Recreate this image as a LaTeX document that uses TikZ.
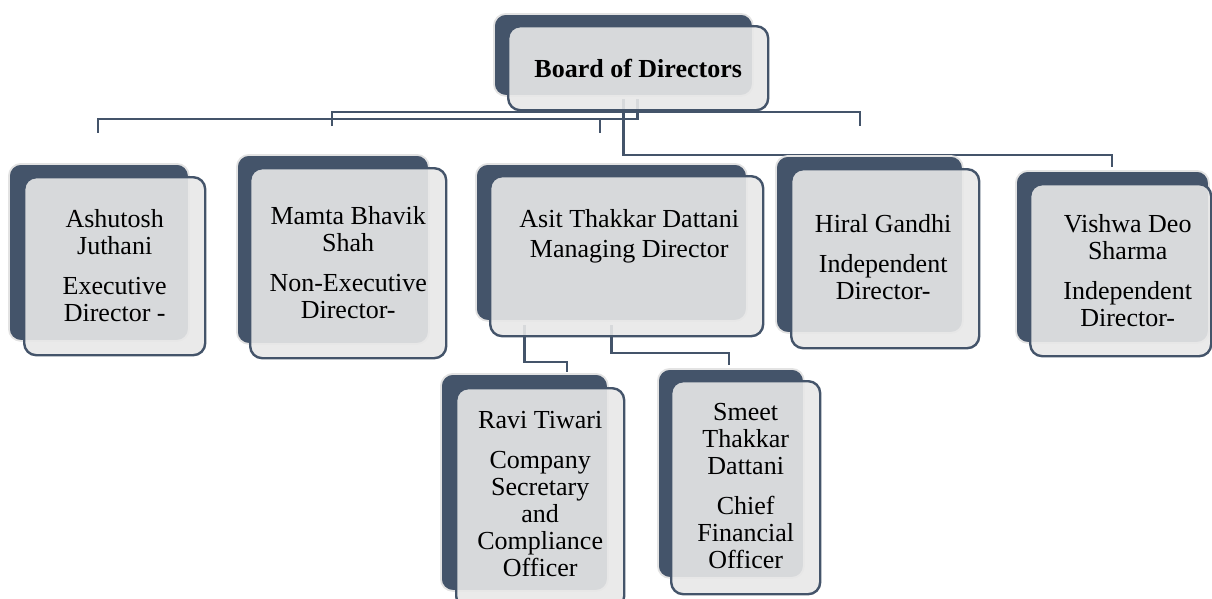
\documentclass[tikz,border=0pt]{standalone}
\usepackage{fontspec}
\setmainfont{Liberation Serif}
\usetikzlibrary{positioning,backgrounds}

\definecolor{slate}{HTML}{44546A}
\definecolor{paper}{HTML}{E8E8E8}

\tikzset{
  backbox/.style={draw=gray!22, line width=1.8pt, fill=slate, rounded corners=12pt,
    inner sep=0pt, anchor=north west},
  frontbox/.style={draw=slate, line width=2.4pt, fill=paper, fill opacity=0.9, text opacity=1,
    rounded corners=12pt, inner sep=0pt, anchor=north west},
  names/.style={align=center, inner sep=0pt, font=\fontsize{26}{27}\selectfont},
  conn/.style={draw=slate, line width=2.8pt}
}

\begin{document}
\begin{tikzpicture}[x=1pt,y=-1pt]
\useasboundingbox (0,0) rectangle (1212,598);

% back plates
\node[backbox, minimum width=259pt, minimum height=82pt] (board-bg) at (493,13) {};
\node[backbox, minimum width=180pt, minimum height=177pt] (ashutosh-bg) at (8,163) {};
\node[backbox, minimum width=192pt, minimum height=189pt] (mamta-bg) at (236,154) {};
\node[backbox, minimum width=271pt, minimum height=157pt] (asit-bg) at (475,163) {};
\node[backbox, minimum width=187pt, minimum height=177pt] (hiral-bg) at (775,155) {};
\node[backbox, minimum width=193pt, minimum height=172pt] (vishwa-bg) at (1015,170) {};
\node[backbox, minimum width=167pt, minimum height=217pt] (ravi-bg) at (440,373) {};
\node[backbox, minimum width=146pt, minimum height=209pt] (smeet-bg) at (657,368) {};

% front cards
\node[frontbox, minimum width=260pt, minimum height=84pt, font=\fontsize{26}{27}\selectfont\bfseries]
  (board) at (507,25) {Board of Directors};
\node[frontbox, minimum width=181pt, minimum height=178pt] (ashutosh) at (23,176) {};
\node[frontbox, minimum width=196pt, minimum height=190pt] (mamta) at (249,167) {};
\node[frontbox, minimum width=273pt, minimum height=160pt] (asit) at (489,175) {};
\node[frontbox, minimum width=188pt, minimum height=179pt] (hiral) at (790,168) {};
\node[frontbox, minimum width=181pt, minimum height=172pt] (vishwa) at (1029,183) {};
\node[frontbox, minimum width=168pt, minimum height=220pt] (ravi) at (455,387) {};
\node[frontbox, minimum width=149pt, minimum height=213pt] (smeet) at (670,380) {};

% texts
\node[names, below=33pt of ashutosh.north] (ashutosh-t) {Ashutosh\\Juthani\\[13pt]Executive\\Director -};
\node[names, below=39pt of mamta.north] (mamta-t) {Mamta Bhavik\\Shah\\[13pt]Non-Executive\\Director-};
\node[names, below=34pt of asit.north, xshift=2.5pt] (asit-t) {Asit Thakkar Dattani\\[3pt]Managing Director};
\node[names, below=46pt of hiral.north, xshift=-2pt] (hiral-t) {Hiral Gandhi\\[13pt]Independent\\Director-};
\node[names, below=31pt of vishwa.north, xshift=7pt] (vishwa-t) {Vishwa Deo\\Sharma\\[13pt]Independent\\Director-};
\node[names, below=24pt of ravi.north] (ravi-t) {Ravi Tiwari\\[13pt]Company\\Secretary\\and\\Compliance\\Officer};
\node[names, below=23pt of smeet.north] (smeet-t) {Smeet\\Thakkar\\Dattani\\[13pt]Chief\\Financial\\Officer};

% connector ends
\coordinate (ashutosh-in) at (98,133);
\coordinate (mamta-in) at (332,126);
\coordinate (asit-in) at (600,133);
\coordinate (hiral-in) at (860,126);
\coordinate (vishwa-in) at (1112,167);
\coordinate (ravi-in) at (567,372);
\coordinate (smeet-in) at (729,365);

\begin{scope}[on background layer]
\draw[conn] ([xshift=-1pt,yshift=12pt]board.south) |- ([yshift=14pt]ashutosh-in) -- (ashutosh-in);
\draw[conn] ([xshift=-1pt,yshift=12pt]board.south) |- ([yshift=14pt]asit-in) -- (asit-in);
\draw[conn] (mamta-in) -- ++(0,-14) -| (hiral-in);
\draw[conn] ([xshift=-15pt,yshift=12pt]board.south) |- ([yshift=12pt]vishwa-in) -- (vishwa-in);
\draw[conn] ([xshift=-102pt,yshift=12pt]asit.south) |- ([yshift=10pt]ravi-in) -- (ravi-in);
\draw[conn] ([xshift=-15pt,yshift=12pt]asit.south) |- ([yshift=12pt]smeet-in) -- (smeet-in);
\end{scope}
\end{tikzpicture}
\end{document}
